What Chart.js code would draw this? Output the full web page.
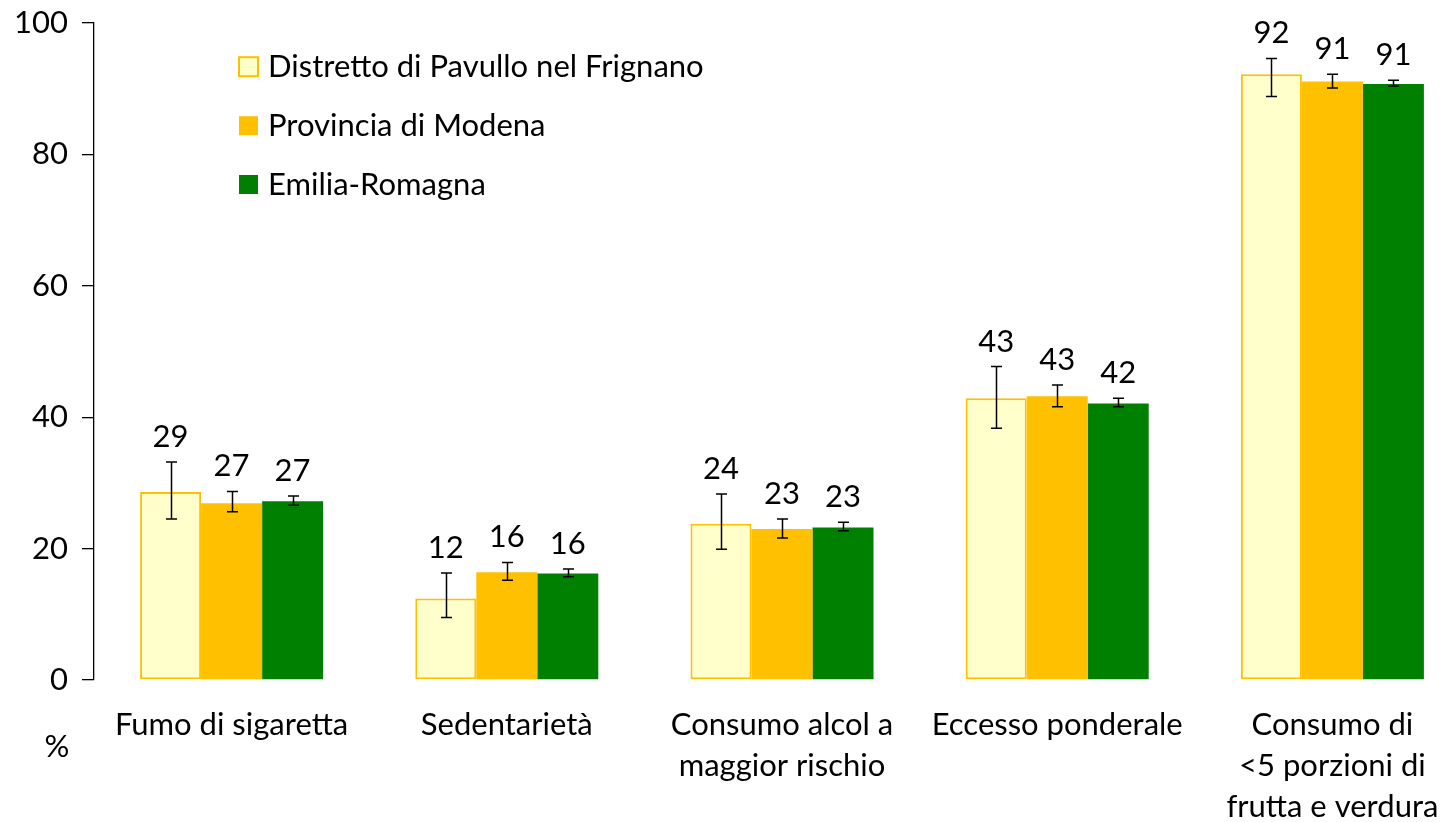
<!DOCTYPE html>
<html>
<head>
<meta charset="utf-8">
<script src="https://cdn.jsdelivr.net/npm/chart.js@4.4.0/dist/chart.umd.min.js"></script>
<style>
html, body { margin: 0; padding: 0; overflow: hidden; background: #fff; }
#wrap { width: 1470px; height: 822px; }
</style>
</head>
<body>
<div id="wrap"><canvas id="grafico" width="1470" height="822"></canvas></div>
<script>
var categorie = [
    'Fumo di sigaretta',
    'Sedentarietà',
    ['Consumo alcol a', 'maggior rischio'],
    'Eccesso ponderale',
    ['Consumo di', '<5 porzioni di', 'frutta e verdura']
];
var serie = ['Distretto di Pavullo nel Frignano', 'Provincia di Modena', 'Emilia-Romagna'];
var tick_y = [0, 20, 40, 60, 80, 100];

var pavullo = [28.6, 12.4, 23.8, 42.9, 92.2];
var pavullo_min = [24.5, 9.5, 19.9, 38.3, 88.8];
var pavullo_max = [33.2, 16.3, 28.3, 47.7, 94.6];

var modena = [26.9, 16.4, 23.0, 43.2, 91.1];
var modena_min = [25.6, 15.2, 21.6, 41.6, 90.1];
var modena_max = [28.7, 17.9, 24.5, 44.9, 92.2];

var emilia = [27.2, 16.2, 23.2, 42.1, 90.7];
var emilia_min = [26.6, 15.7, 22.7, 41.6, 90.4];
var emilia_max = [28.0, 16.9, 24.0, 42.9, 91.3];

var minimi = [pavullo_min, modena_min, emilia_min];
var massimi = [pavullo_max, modena_max, emilia_max];
var colori = ['#FFFFCC', '#FFC000', '#008000'];
var bordi = ['#FFC000', '#FFC000', '#008000'];

var FONT_PX = 31;
Chart.defaults.font.family = 'Lato';
Chart.defaults.color = '#000';

var pluginExtra = {
    id: 'extra',
    afterDatasetsDraw: function(chart){
        var ctx = chart.ctx;
        var scalaY = chart.scales.y;
        ctx.save();
        // barre d'errore ed etichette
        chart.data.datasets.forEach(function(ds, i){
            var meta = chart.getDatasetMeta(i);
            meta.data.forEach(function(bar, j){
                var x = Math.round(bar.x) + 0.5;
                var yTop = scalaY.getPixelForValue(massimi[i][j]);
                var yBot = scalaY.getPixelForValue(minimi[i][j]);
                ctx.strokeStyle = '#000';
                ctx.lineWidth = 1.5;
                ctx.beginPath();
                ctx.moveTo(x, yTop); ctx.lineTo(x, yBot);
                ctx.moveTo(x - 5.5, yTop); ctx.lineTo(x + 5.5, yTop);
                ctx.moveTo(x - 5.5, yBot); ctx.lineTo(x + 5.5, yBot);
                ctx.stroke();
                ctx.fillStyle = '#000';
                ctx.font = FONT_PX + 'px Lato';
                ctx.textAlign = 'center';
                ctx.textBaseline = 'middle';
                ctx.fillText(Math.round(ds.data[j]), bar.x, yTop - 25);
            });
        });
        // legenda
        var righe = [66.7, 125.7, 184.5];
        serie.forEach(function(nome, i){
            ctx.fillStyle = colori[i];
            ctx.fillRect(239, righe[i] - 9.5, 19, 19);
            if(i === 0){
                ctx.strokeStyle = bordi[i];
                ctx.lineWidth = 2;
                ctx.strokeRect(239, righe[i] - 9.5, 19, 19);
            }
            ctx.fillStyle = '#000';
            ctx.font = FONT_PX + 'px Lato';
            ctx.textAlign = 'left';
            ctx.textBaseline = 'middle';
            ctx.fillText(nome, 268, righe[i]);
        });
        ctx.textAlign = 'center';
        ctx.fillText('%', 57, 747);
        ctx.restore();
    }
};

var ctx = document.getElementById('grafico').getContext('2d');
window.myBar = new Chart(ctx, {
    type: 'bar',
    data: {
        labels: categorie,
        datasets: [{
            label: serie[0],
            data: pavullo,
            backgroundColor: colori[0],
            borderColor: bordi[0],
            borderWidth: 2,
            borderSkipped: false
        }, {
            label: serie[1],
            data: modena,
            backgroundColor: colori[1],
            borderWidth: 0
        }, {
            label: serie[2],
            data: emilia,
            backgroundColor: colori[2],
            borderWidth: 0
        }]
    },
    options: {
        responsive: false,
        animation: false,
        devicePixelRatio: 1,
        categoryPercentage: 0.665,
        barPercentage: 1,
        layout: { padding: { top: 23, left: 0, right: 0, bottom: 0 } },
        plugins: {
            legend: { display: false },
            tooltip: { enabled: false }
        },
        scales: {
            x: {
                grid: { display: false, drawTicks: false },
                border: { display: false },
                ticks: {
                    padding: 24.5,
                    maxRotation: 0,
                    autoSkip: false,
                    font: { size: FONT_PX, lineHeight: 41 / FONT_PX }
                },
                afterFit: function(scale){
                    scale.height = 142;
                    scale.paddingLeft = 0;
                    scale.paddingRight = 0;
                }
            },
            y: {
                min: 0,
                max: 100,
                afterBuildTicks: function(scale){
                    scale.ticks = tick_y.map(function(v){ return { value: v }; });
                },
                grid: {
                    display: true,
                    drawOnChartArea: false,
                    drawTicks: true,
                    tickLength: 12,
                    color: '#000',
                    lineWidth: 1.3
                },
                border: { display: true, color: '#000', width: 1.3 },
                ticks: {
                    padding: 14,
                    font: { size: FONT_PX }
                },
                afterFit: function(scale){
                    scale.width = 94;
                    scale.paddingTop = 0;
                    scale.paddingBottom = 0;
                }
            }
        }
    },
    plugins: [pluginExtra]
});
</script>
</body>
</html>
